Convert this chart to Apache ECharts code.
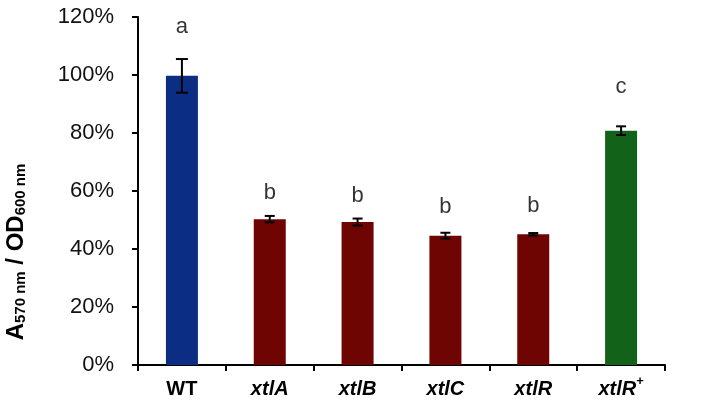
<!DOCTYPE html>
<html>
<head>
<meta charset="utf-8">
<script src="https://cdn.jsdelivr.net/npm/echarts@6/dist/echarts.min.js"></script>
<style>html,body{margin:0;padding:0;background:#fff}#c{width:728px;height:404px}</style>
</head>
<body>
<div id="c"></div>
<script>
var categories = ['WT', 'xtlA', 'xtlB', 'xtlC', 'xtlR', 'xtlR+'];
var values = [99.7, 50.3, 49.3, 44.6, 45.1, 80.8];
var errors = [5.8, 1.1, 1.2, 1.0, 0.4, 1.5];
var letters = ['a', 'b', 'b', 'b', 'b', 'c'];
var letterPos = [116.5, 59.3, 58.3, 54.5, 54.8, 95.9];
var barColors = ['#0c2d84', '#6e0502', '#6e0502', '#6e0502', '#6e0502', '#12621a'];
var yTicks = [0, 20, 40, 60, 80, 100, 120];

var chart = echarts.init(document.getElementById('c'));
var font = 'Liberation Sans, Arial, sans-serif';
chart.setOption({
  animation: false,
  grid: {left: 138, right: 63, top: 17, bottom: 39},
  xAxis: {
    type: 'category',
    data: categories,
    axisLine: {lineStyle: {color: '#000', width: 2}},
    axisTick: {show: true, length: 6, interval: 0, lineStyle: {color: '#000', width: 2}},
    axisLabel: {
      margin: 10,
      interval: 0,
      formatter: function (v) {
        if (v === 'WT') return '{b|WT}';
        if (v.slice(-1) === '+') return '{i|' + v.slice(0, -1) + '}{sup|+}';
        return '{i|' + v + '}';
      },
      rich: {
        b: {fontFamily: font, fontWeight: 'bold', fontSize: 20, color: '#000', lineHeight: 24, verticalAlign: 'bottom'},
        i: {fontFamily: font, fontWeight: 'bold', fontStyle: 'italic', fontSize: 20, color: '#000', lineHeight: 24, verticalAlign: 'bottom'},
        sup: {fontFamily: font, fontWeight: 'bold', fontSize: 13, color: '#000', lineHeight: 24, verticalAlign: 'top', padding: [0, 0, 10, 0]}
      }
    }
  },
  yAxis: {
    type: 'value',
    min: yTicks[0],
    max: yTicks[yTicks.length - 1],
    interval: 20,
    splitLine: {show: false},
    axisLine: {show: true, lineStyle: {color: '#000', width: 2}},
    axisTick: {show: true, length: 6, lineStyle: {color: '#000', width: 2}},
    axisLabel: {margin: 24, formatter: '{value}%', fontFamily: font, fontSize: 22, color: '#111'}
  },
  graphic: [{
    type: 'text',
    x: 14,
    y: 252,
    rotation: Math.PI / 2,
    style: {
      text: '{a|A}{s|570 nm}{a| / OD}{s|600 nm}',
      align: 'center',
      verticalAlign: 'middle',
      rich: {
        a: {fontFamily: font, fontWeight: 'bold', fontSize: 24, fill: '#000', lineHeight: 28, verticalAlign: 'bottom'},
        s: {fontFamily: font, fontWeight: 'bold', fontSize: 15, fill: '#000', lineHeight: 24, verticalAlign: 'bottom'}
      }
    }
  }],
  series: [{
    type: 'bar',
    barWidth: 32,
    data: values.map(function (v, i) { return {value: v, itemStyle: {color: barColors[i]}}; }),
    z: 2
  }, {
    type: 'custom',
    z: 5,
    data: values.map(function (v, i) { return [i, v, errors[i]]; }),
    renderItem: function (params, api) {
      var x = api.value(0), v = api.value(1), e = api.value(2);
      var top = api.coord([x, v + e]);
      var bot = api.coord([x, v - e]);
      var hw = x === 0 ? 6 : 5;
      var st = {stroke: '#000', lineWidth: 2};
      return {type: 'group', children: [
        {type: 'line', shape: {x1: top[0], y1: top[1], x2: bot[0], y2: bot[1]}, style: st},
        {type: 'line', shape: {x1: top[0] - hw, y1: top[1], x2: top[0] + hw, y2: top[1]}, style: st},
        {type: 'line', shape: {x1: bot[0] - hw, y1: bot[1], x2: bot[0] + hw, y2: bot[1]}, style: st}
      ]};
    }
  }, {
    type: 'scatter',
    symbolSize: 0,
    z: 6,
    data: letterPos.map(function (p, i) { return [i, p]; }),
    label: {
      show: true,
      position: 'inside',
      fontFamily: font,
      fontSize: 22,
      color: '#000',
      formatter: function (p) { return letters[p.dataIndex]; }
    }
  }]
});
</script>
</body>
</html>
